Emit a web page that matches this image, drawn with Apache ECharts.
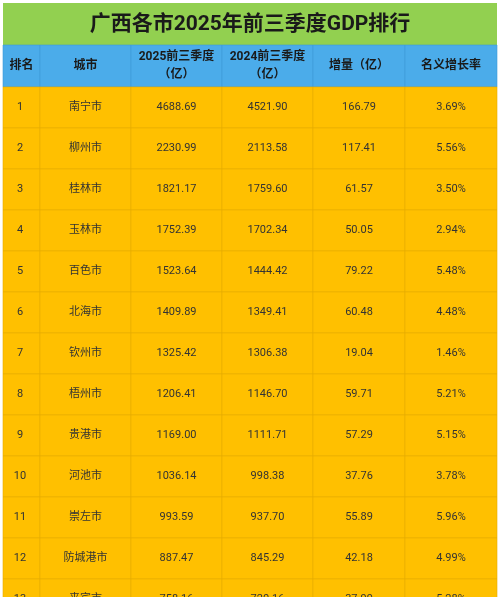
<!DOCTYPE html><html><head><meta charset="utf-8"><script src="https://cdn.jsdelivr.net/npm/echarts@6/dist/echarts.min.js"></script>
<style>html,body{margin:0;padding:0;background:#fff}#c{width:500px;height:597px}</style></head><body><div id="c"></div><script>
const title='广西各市2025年前三季度GDP排行';
const headers=['排名','城市','2025前三季度\n（亿）','2024前三季度\n（亿）','增量（亿）','名义增长率'];
const ranks=['1','2','3','4','5','6','7','8','9','10','11','12','13'];
const cities=['南宁市','柳州市','桂林市','玉林市','百色市','北海市','钦州市','梧州市','贵港市','河池市','崇左市','防城港市','来宾市'];
const gdp2025=['4688.69','2230.99','1821.17','1752.39','1523.64','1409.89','1325.42','1206.41','1169.00','1036.14','993.59','887.47','758.16'];
const gdp2024=['4521.90','2113.58','1759.60','1702.34','1444.42','1349.41','1306.38','1146.70','1111.71','998.38','937.70','845.29','720.16'];
const incr=['166.79','117.41','61.57','50.05','79.22','60.48','19.04','59.71','57.29','37.76','55.89','42.18','37.99'];
const rate=['3.69%','5.56%','3.50%','2.94%','5.48%','4.48%','1.46%','5.21%','5.15%','3.78%','5.96%','4.99%','5.28%'];
const colX=[3,40,131,222,313,405,497];
const titleH=[3,45], headY=[45,87], rowTop=87, rowH=41;
const ch=echarts.init(document.getElementById('c'));
const g=[];
g.push({type:'rect',shape:{x:colX[0],y:titleH[0],width:colX[6]-colX[0],height:titleH[1]-titleH[0]},style:{fill:'#92d050'}});
g.push({type:'text',x:250,y:25,style:{text:title,fill:'#1a1a1a',font:'bold 21px Roboto, "Noto Sans CJK SC"',align:'center',verticalAlign:'middle'}});
for(let c=0;c<6;c++){
 g.push({type:'rect',shape:{x:colX[c],y:headY[0],width:colX[c+1]-colX[c],height:headY[1]-headY[0]},style:{fill:'#4bacea',stroke:'#3d9bd6',lineWidth:0.6}});
 g.push({type:'text',x:(colX[c]+colX[c+1])/2,y:66,style:{text:headers[c],fill:'#1a1a1a',font:'bold 12px Roboto, "Noto Sans CJK SC"',align:'center',verticalAlign:'middle',lineHeight:18}});
}
const cols=[ranks,cities,gdp2025,gdp2024,incr,rate];
for(let r=0;r<ranks.length;r++){
 const y=rowTop+r*rowH;
 for(let c=0;c<6;c++){
  g.push({type:'rect',shape:{x:colX[c],y:y,width:colX[c+1]-colX[c],height:rowH},style:{fill:'#ffc000',stroke:'#e6ad00',lineWidth:0.6}});
  g.push({type:'text',x:c===0?colX[0]+17:(colX[c]+colX[c+1])/2,y:y+rowH/2,style:{text:cols[c][r],fill:'#333',font:'11px Roboto, "Noto Sans CJK SC"',align:'center',verticalAlign:'middle'}});
 }
}
ch.setOption({animation:false,graphic:g});
</script></body></html>
